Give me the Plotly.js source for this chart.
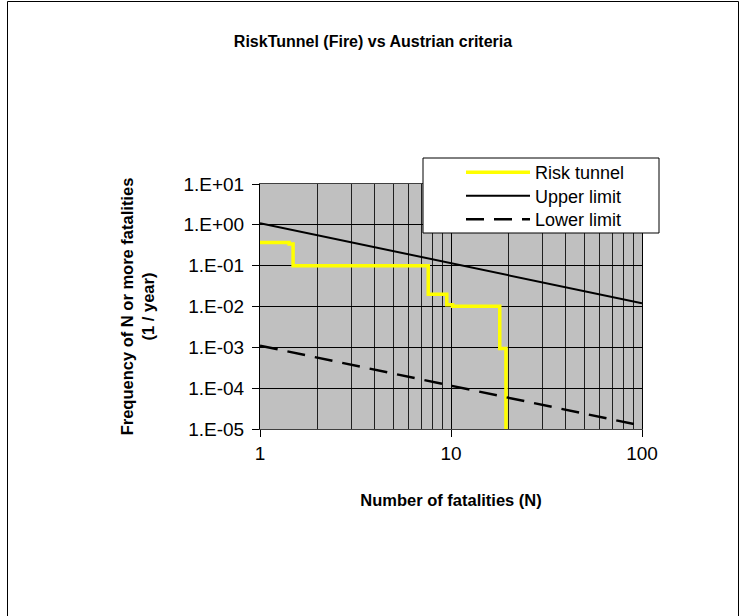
<!DOCTYPE html>
<html>
<head>
<meta charset="utf-8">
<script src="https://cdn.plot.ly/plotly-3.0.1.min.js"></script>
<style>html,body{margin:0;padding:0;background:#fff;}#chart{width:746px;height:616px;}</style>
</head>
<body>
<div id="chart"></div>
<script>
// Data
const riskN = [1, 1.42, 1.49, 7.6, 9.5, 10.2, 18.0, 19.4];
const riskF = [0.37, 0.34, 0.1, 0.02, 0.011, 0.0102, 0.00093, 1e-7];
const upperN = [1, 100];
const upperF = [1.1, 0.012];
const lowerN = [1, 100];
const lowerF = [0.0011, 1.2e-5];
const yTickVals = [1e-5, 1e-4, 1e-3, 1e-2, 1e-1, 1, 10];
const yTickText = ['1.E-05', '1.E-04', '1.E-03', '1.E-02', '1.E-01', '1.E+00', '1.E+01'];
const xTickVals = [1, 10, 100];
const xTickText = ['1', '10', '100'];
const xMinorVals = [2,3,4,5,6,7,8,9,20,30,40,50,60,70,80,90];

const W = 746, H = 616;
const L = 260, R = 642, T = 184, B = 429;
const pw = R - L, ph = B - T;
const px = v => (v - L) / pw;
const py = v => (B - v) / ph;

const font = 'Arial, "Liberation Sans", sans-serif';
const legFont = {family: font, size: 18, color: '#000'};
const legCommon = (yPix) => ({
  x: px(461), xanchor: 'left', y: py(yPix), yanchor: 'middle',
  bgcolor: 'rgba(0,0,0,0)', borderwidth: 0, font: legFont, itemwidth: 64
});

const traces = [
  {x: riskN, y: riskF, name: 'Risk tunnel', mode: 'lines', line: {color: '#ffff00', width: 3.5, shape: 'hv'}, legend: 'legend'},
  {x: upperN, y: upperF, name: 'Upper limit', mode: 'lines', line: {color: '#000', width: 2}, legend: 'legend2'},
  {x: lowerN, y: lowerF, name: 'Lower limit', mode: 'lines', line: {color: '#000', width: 2.5, dash: '18px,10px'}, legend: 'legend3'}
];

const layout = {
  width: W, height: H,
  margin: {l: L, r: W - R, t: T, b: H - B, pad: 0},
  paper_bgcolor: '#fff',
  plot_bgcolor: '#c0c0c0',
  font: {family: font, color: '#000', size: 18},
  title: {text: '<b>RiskTunnel (Fire) vs Austrian criteria</b>', font: {family: font, size: 16, color: '#000'}, x: px(373), xref: 'paper', xanchor: 'center', y: 1 - 41 / H, yanchor: 'middle'},
  showlegend: true,
  legend: legCommon(172.5),
  legend2: legCommon(196),
  legend3: legCommon(219.5),
  xaxis: {
    type: 'log', range: [0, 2], autorange: false,
    tickvals: xTickVals, ticktext: xTickText,
    ticks: 'outside', ticklen: 7, tickcolor: '#000', tickwidth: 1,
    tickfont: {family: font, size: 19},
    showgrid: true, gridcolor: '#000', gridwidth: 1,
    minor: {tickvals: xMinorVals, showgrid: true, gridcolor: '#202020', gridwidth: 1, ticks: ''},
    showline: true, linecolor: '#404040', linewidth: 1, mirror: true,
    zeroline: false,
    title: {text: '<b>Number of fatalities (N)</b>', font: {family: font, size: 16.5}, standoff: 31}
  },
  yaxis: {
    type: 'log', range: [-5, 1], autorange: false,
    tickvals: yTickVals, ticktext: yTickText,
    ticks: 'outside', ticklen: 7, tickcolor: '#000', tickwidth: 1,
    tickfont: {family: font, size: 19},
    ticklabelstandoff: 4,
    showgrid: true, gridcolor: '#000', gridwidth: 1,
    showline: true, linecolor: '#000', linewidth: 1, mirror: true,
    zeroline: false,
    title: {text: '<b>Frequency of N or more fatalities<br>(1 / year)</b>', font: {family: font, size: 16.5}, standoff: 24}
  },
  shapes: [
    {type: 'rect', xref: 'paper', yref: 'paper', x0: px(7.5), x1: px(738.5), y0: py(1.5), y1: py(640), line: {color: '#000', width: 1}, fillcolor: 'rgba(0,0,0,0)', layer: 'below'},
    {type: 'rect', xref: 'paper', yref: 'paper', x0: px(423), x1: px(659), y0: py(158), y1: py(233), line: {color: '#000', width: 1}, fillcolor: '#fff', layer: 'above'}
  ]
};

Plotly.newPlot('chart', traces, layout, {displayModeBar: false, staticPlot: true});
</script>
</body>
</html>
